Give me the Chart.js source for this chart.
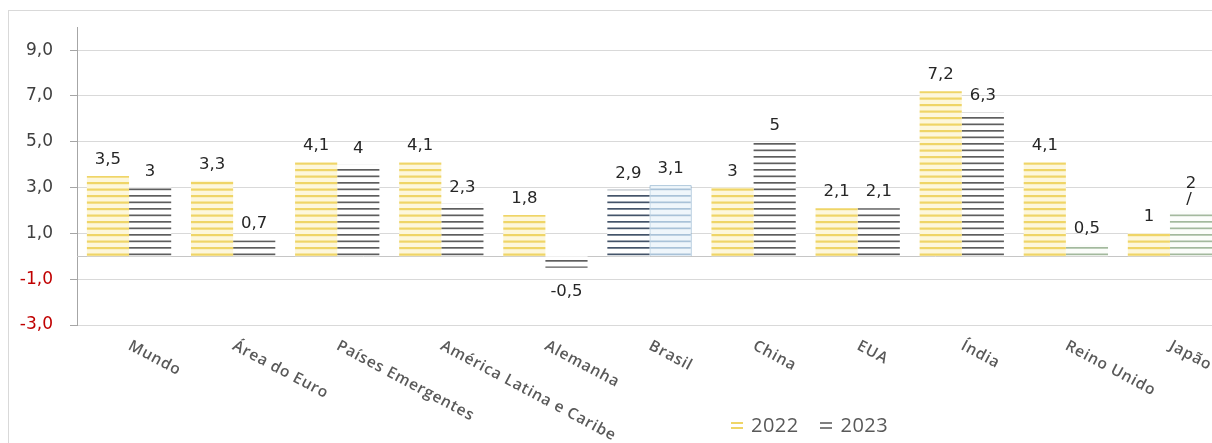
<!DOCTYPE html>
<html>
<head>
<meta charset="utf-8">
<script src="https://cdn.jsdelivr.net/npm/chart.js@4.4.4/dist/chart.umd.min.js"></script>
<style>
  html, body { margin: 0; padding: 0; background: #fff; overflow: hidden; }
  #wrap { position: relative; width: 1212px; height: 443px; overflow: hidden; }
  #frame { position: absolute; left: 8px; top: 10px; width: 1300px; height: 500px; border: 1px solid #d9d9d9; }
  #c { position: absolute; left: 0; top: 0; }
  #legend { position: absolute; left: 731px; top: 411px; font: 20px "Open Sans", sans-serif; color: #595959; white-space: nowrap; letter-spacing: 0.5px; }
  #legend .item { display: inline-block; margin-right: 16px; }
  #legend .icon { display: inline-block; width: 12px; height: 3px; border-top: 2px solid; border-bottom: 2px solid; vertical-align: middle; margin-right: 8px; position: relative; top: -1px; }
</style>
</head>
<body>
<div id="wrap">
  <div id="frame"></div>
  <canvas id="c" width="1222" height="443"></canvas>
  <div id="legend">
    <span class="item"><span class="icon" style="border-color:#efd567"></span>2022</span>
    <span class="item"><span class="icon" style="border-color:#7f7f7f"></span>2023</span>
  </div>
</div>
<script>
// PIB growth 2022 / 2023 by region (%)
const categories = ['Mundo', 'Área do Euro', 'Países Emergentes', 'América Latina e Caribe', 'Alemanha',
    'Brasil', 'China', 'EUA', 'Índia', 'Reino Unido', 'Japão'];
const values2022 = [3.5, 3.3, 4.1, 4.1, 1.8, 2.9, 3, 2.1, 7.2, 4.1, 1];
const values2023 = [3, 0.7, 4, 2.3, -0.5, 3.1, 5, 2.1, 6.3, 0.5, 2];
const yTicks = [-3, -1, 1, 3, 5, 7, 9];

// horizontal-line hatch, period 6.5px (two lines per 13px tile)
function hatch(line, bg, w) {
    const t = document.createElement('canvas');
    t.width = 8; t.height = 13;
    const g = t.getContext('2d');
    g.fillStyle = bg; g.fillRect(0, 0, 8, 13);
    g.fillStyle = line;
    g.fillRect(0, 0, 8, w);
    g.fillRect(0, 6.5, 8, w);
    return g.createPattern(t, 'repeat');
}

const ctx = document.getElementById('c').getContext('2d');
const yellow = hatch('#efd567', '#fdf7dc', 2.2);
const gray = hatch('#5e5e5e', '#ffffff', 1.7);
const slate = hatch('#44546a', '#ffffff', 1.7);
const lightBlue = hatch('#a9c2d8', '#eff6fb', 1.7);
const green = hatch('#a3b99d', '#fbfdfa', 1.7);

const fill2022 = categories.map((c) => (c === 'Brasil' ? slate : yellow));
const fill2023 = categories.map((c) => (c === 'Brasil' ? lightBlue : (c === 'Reino Unido' || c === 'Japão') ? green : gray));
const border2023 = categories.map((c) => (c === 'Brasil' ? 1 : 0));

const fmt = (v) => v.toLocaleString('pt-BR');
const NUM_FONT = '16.5px "DejaVu Sans", sans-serif';

const extras = {
    id: 'extras',
    beforeDatasetsDraw(chart) {
        const { ctx, chartArea, scales } = chart;
        const y0 = scales.y.getPixelForValue(0);
        ctx.save();
        ctx.strokeStyle = '#c6c6c6';
        ctx.lineWidth = 1;
        ctx.beginPath();
        ctx.moveTo(chartArea.left, Math.round(y0) + 0.5);
        ctx.lineTo(chartArea.right, Math.round(y0) + 0.5);
        ctx.stroke();
        ctx.restore();
    },
    afterDatasetsDraw(chart) {
        const { ctx, scales } = chart;
        ctx.save();
        // value labels
        ctx.font = NUM_FONT;
        ctx.fillStyle = '#262626';
        ctx.textAlign = 'center';
        chart.data.datasets.forEach((ds, di) => {
            chart.getDatasetMeta(di).data.forEach((el, i) => {
                const v = ds.data[i];
                if (v >= 0) {
                    ctx.textBaseline = 'alphabetic';
                    // last label (Japão) sits higher with a small leader mark, as in the source
                    const lift = (di === 1 && i === categories.length - 1) ? 10 : 0;
                    ctx.fillText(fmt(v), el.x, el.y - 12 - lift);
                    if (lift) ctx.fillText('/', el.x - 2, el.y - 6);
                } else {
                    ctx.textBaseline = 'top';
                    ctx.fillText(fmt(v), el.x, el.y + 16);
                }
            });
        });
        // rotated category labels
        ctx.font = '600 15.5px "Open Sans", sans-serif';
        ctx.letterSpacing = '0.8px';
        ctx.fillStyle = '#595959';
        ctx.textAlign = 'left';
        ctx.textBaseline = 'top';
        const ang = 28 * Math.PI / 180;
        categories.forEach((c, i) => {
            const x = scales.x.getPixelForValue(i);
            ctx.save();
            ctx.translate(x + 4, 338);
            ctx.rotate(ang);
            ctx.fillText(c, 0, 0);
            ctx.restore();
        });
        ctx.restore();
    },
};

new Chart(ctx, {
    type: 'bar',
    data: {
        labels: categories,
        datasets: [
            { label: '2022', data: values2022, backgroundColor: fill2022, borderWidth: 0 },
            { label: '2023', data: values2023, backgroundColor: fill2023, borderColor: '#7ea6c6', borderWidth: border2023 },
        ],
    },
    options: {
        responsive: false,
        animation: false,
        events: [],
        layout: { padding: { top: 23, left: 0, right: 0, bottom: 0 } },
        datasets: { bar: { categoryPercentage: 0.81, barPercentage: 1.0 } },
        plugins: { legend: { display: false }, tooltip: { enabled: false } },
        scales: {
            x: {
                grid: { display: false },
                border: { display: false },
                ticks: { display: false },
                afterFit(scale) { scale.height = 118; },
            },
            y: {
                min: -3,
                max: 10,
                afterBuildTicks(scale) { scale.ticks = yTicks.map((v) => ({ value: v })); },
                afterFit(scale) { scale.width = 77; },
                grid: { color: '#d9d9d9', tickColor: '#a6a6a6', tickLength: 7 },
                border: { color: '#a6a6a6' },
                ticks: {
                    padding: 17,
                    font: { family: 'DejaVu Sans', size: 17 },
                    color: (c) => (c.tick && c.tick.value < 0 ? '#c00000' : '#404040'),
                    callback: (v) => v.toFixed(1).replace('.', ','),
                },
            },
        },
    },
    plugins: [extras],
});
</script>
</body>
</html>
